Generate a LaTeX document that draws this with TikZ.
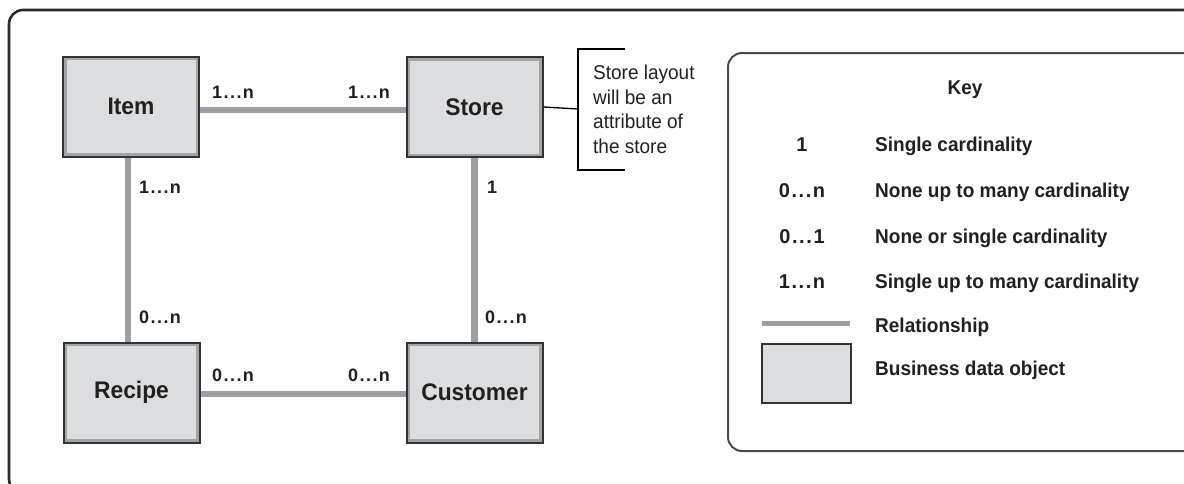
\documentclass[tikz,border=0pt]{standalone}
\usepackage{fontspec}
\setmainfont[FakeStretch=0.95]{Liberation Sans}
\newfontfamily\numfont[LetterSpace=8]{Liberation Sans}
\definecolor{ink}{HTML}{231F20}
\definecolor{edge}{HTML}{333333}
\definecolor{boxfill}{HTML}{DCDDDF}
\definecolor{band}{HTML}{A3A4A6}
\definecolor{relgray}{HTML}{9D9EA1}
\definecolor{framec}{HTML}{2A2A2A}
\definecolor{keyedge}{HTML}{4A4A4A}
\begin{document}
\begin{tikzpicture}[x=1pt,y=-1pt,
  entity/.style={draw=edge, line width=2pt, fill=boxfill,
    minimum width=136pt, minimum height=100pt, inner sep=0pt,
    font=\fontsize{24}{28}\selectfont\bfseries, text=ink,
    path picture={\draw[band,line width=7pt]
      (path picture bounding box.south west) rectangle (path picture bounding box.north east);}},
  rel/.style={draw=relgray, line width=6.5pt},
  card/.style={font=\numfont\fontsize{18}{20}\selectfont\bfseries, text=ink,
    inner sep=0pt, anchor=west, text height=13pt, text depth=0pt},
  keycard/.style={font=\numfont\fontsize{20}{22}\selectfont\bfseries, text=ink,
    inner sep=0pt, text height=14.5pt, text depth=0pt},
  keytext/.style={font=\fontsize{20}{22}\selectfont\bfseries, text=ink,
    inner sep=0pt, anchor=west, text height=14.5pt, text depth=0pt},
  notetext/.style={font=\fontsize{20}{24.5}\selectfont, text=ink,
    inner sep=0pt, anchor=north west, align=left},
  thinline/.style={draw=black, line width=1.3pt}
]
\useasboundingbox (0,0) rectangle (1184,483);

% outer frame and key panel, both running past the page edge
\begin{scope}
  \clip (0,0) rectangle (1184,483);
  \draw[draw=framec, line width=2.6pt, rounded corners=14pt] (9,10) rectangle (1197,493);
  \draw[draw=keyedge, line width=2pt, rounded corners=14pt] (728,53) rectangle (1205,451);
\end{scope}

% business data objects
\node[entity] (item)     at (131,106.5)   {Item};
\node[entity] (store)    at (474.5,107)   {Store};
\node[entity] (recipe)   at (131.5,392.5) {Recipe};
\node[entity] (customer) at (474.5,392.5) {Customer};

% relationships
\draw[rel] ([yshift=-3.5pt]item.east) -- ([yshift=-3pt]store.west);
\draw[rel] ([yshift=-1.5pt]recipe.east) -- ([yshift=-1.5pt]customer.west);
\draw[rel] ([xshift=-3pt]item.south) -- ([xshift=-3.5pt]recipe.north);
\draw[rel] (store.south) -- (customer.north);

% cardinalities
\node[card] (c1) at (212,92)  {1...n};
\node[card] (c2) at (348,92)  {1...n};
\node[card] (c3) at (139,187) {1...n};
\node[card] (c4) at (487,187) {1};
\node[card] (c5) at (139,317) {0...n};
\node[card] (c6) at (485,317) {0...n};
\node[card] (c7) at (212,375) {0...n};
\node[card] (c8) at (348,375) {0...n};

% annotation on the store
\coordinate (brk) at (578,109);
\coordinate (brktop) at (578,49);
\coordinate (brkbot) at (578,170);
\draw[thinline] (store.east) -- (brk);
\draw[thinline] (625,49) -- (brktop) -- (brkbot) -- (625,170);
\node[notetext] (note) at (593,65) {Store layout\\will be an\\attribute of\\the store};

% key
\node[keytext, anchor=center] (keyhead) at (965,87) {Key};
\node[keycard] (k1) at (802,144) {1};
\node[keycard] (k2) at (802,190) {0...n};
\node[keycard] (k3) at (802,236) {0...1};
\node[keycard] (k4) at (802,281) {1...n};
\node[keytext] (t1) at (875,144) {Single cardinality};
\node[keytext] (t2) at (875,190) {None up to many cardinality};
\node[keytext] (t3) at (875,236) {None or single cardinality};
\node[keytext] (t4) at (875,281) {Single up to many cardinality};
\coordinate (rl) at (762,323);
\coordinate (rr) at (850,323);
\draw[rel, line width=5pt] (rl) -- (rr);
\node[keytext] (t5) at (875,325) {Relationship};
\node[draw=edge, line width=2pt, fill=boxfill, minimum width=89pt, minimum height=59pt,
  inner sep=0pt] (kbox) at (806.5,373.5) {};
\node[keytext] (t6) at (875,368) {Business data object};
\end{tikzpicture}
\end{document}
